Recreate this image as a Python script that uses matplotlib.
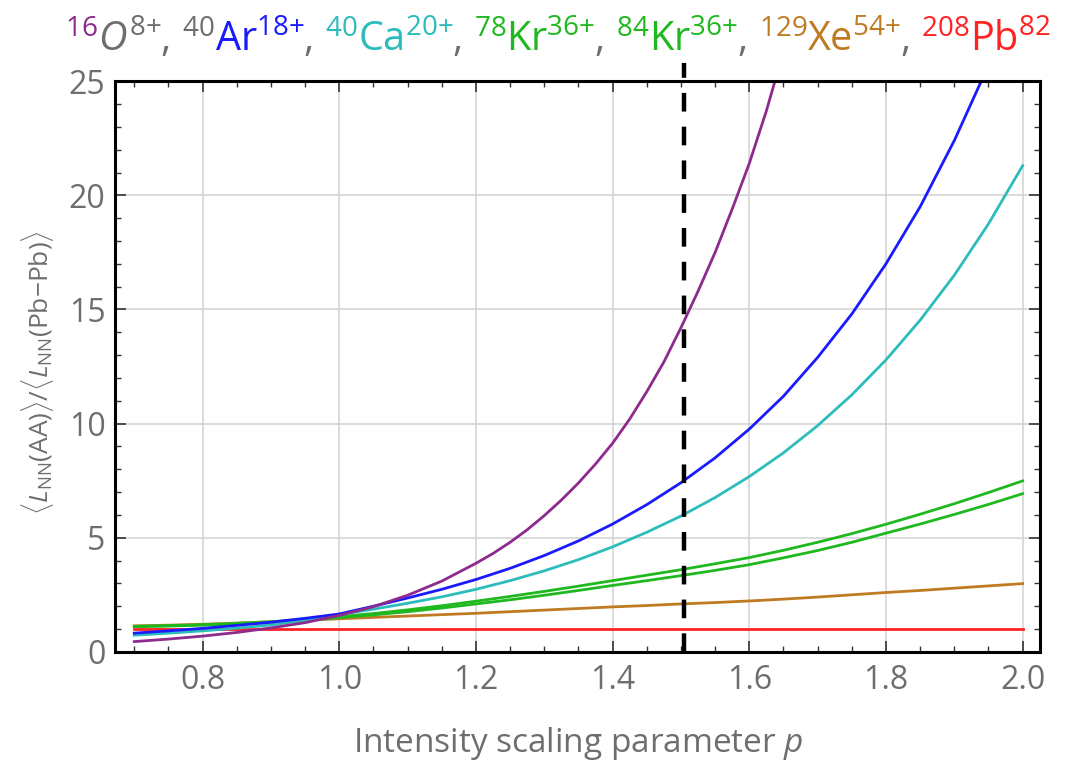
import numpy as np
import matplotlib
matplotlib.use("Agg")
import matplotlib.pyplot as plt
from matplotlib.offsetbox import TextArea, HPacker, AnnotationBbox
from matplotlib.ticker import MultipleLocator

plt.rcParams['font.family'] = ['Open Sans', 'DejaVu Sans']
plt.rcParams['mathtext.fontset'] = 'custom'
plt.rcParams['mathtext.rm'] = 'Open Sans'
plt.rcParams['mathtext.it'] = 'Open Sans:italic'
plt.rcParams['mathtext.bf'] = 'Open Sans:bold'

# values, ratio to Pb-Pb
p = [0.70, 0.75, 0.80, 0.85, 0.90, 0.95, 1.00, 1.05, 1.10, 1.15, 1.20, 1.25, 1.30, 1.35,
     1.40, 1.45, 1.50, 1.55, 1.60, 1.65, 1.70, 1.75, 1.80, 1.85, 1.90, 1.95, 2.00]

# O rises steeply, read it more finely
p_o = [0.70, 0.75, 0.80, 0.85, 0.90, 0.95, 1.00, 1.05, 1.10, 1.15, 1.20, 1.225, 1.25, 1.275,
       1.30, 1.325, 1.35, 1.375, 1.40, 1.425, 1.45, 1.475, 1.50, 1.525, 1.55, 1.575, 1.60,
       1.625, 1.65]
o16 = [0.45, 0.56, 0.69, 0.85, 1.05, 1.28, 1.60, 1.98, 2.48, 3.10, 3.88, 4.31, 4.80, 5.35,
       5.97, 6.65, 7.40, 8.23, 9.14, 10.2, 11.4, 12.7, 14.2, 15.8, 17.5, 19.4, 21.4,
       23.7, 26.3]

ar40 = [0.82, 0.92, 1.03, 1.16, 1.30, 1.47, 1.66, 2.00, 2.36, 2.74, 3.17, 3.66, 4.22, 4.86,
        5.60, 6.45, 7.41, 8.50, 9.76, 11.2, 12.9, 14.8, 17.0, 19.5, 22.4, 25.7, 29.5]
ca40 = [0.73, 0.82, 0.92, 1.04, 1.18, 1.38, 1.63, 1.87, 2.13, 2.41, 2.74, 3.12, 3.55, 4.04,
        4.60, 5.24, 5.95, 6.76, 7.68, 8.72, 9.91, 11.26, 12.79, 14.53, 16.5, 18.75, 21.3]
kr78 = [1.12, 1.15, 1.19, 1.25, 1.32, 1.42, 1.54, 1.68, 1.84, 2.02, 2.22, 2.43, 2.65, 2.88,
        3.12, 3.36, 3.60, 3.86, 4.13, 4.45, 4.80, 5.18, 5.59, 6.03, 6.49, 6.98, 7.49]
kr84 = [1.10, 1.13, 1.17, 1.22, 1.29, 1.38, 1.50, 1.62, 1.76, 1.92, 2.10, 2.28, 2.48, 2.69,
        2.91, 3.12, 3.34, 3.57, 3.82, 4.12, 4.44, 4.80, 5.20, 5.60, 6.02, 6.46, 6.93]
xe129 = [1.14, 1.17, 1.21, 1.26, 1.32, 1.38, 1.45, 1.51, 1.57, 1.63, 1.69, 1.76, 1.83, 1.90,
         1.97, 2.03, 2.10, 2.16, 2.23, 2.31, 2.40, 2.50, 2.60, 2.69, 2.79, 2.89, 2.99]
pb208 = [1.0, 1.0, 1.0, 1.0, 1.0, 1.0, 1.0, 1.0, 1.0, 1.0, 1.0, 1.0, 1.0, 1.0,
         1.0, 1.0, 1.0, 1.0, 1.0, 1.0, 1.0, 1.0, 1.0, 1.0, 1.0, 1.0, 1.0]

p_marker = 1.505

c_o = '#8e2a8e'
c_ar = '#1a1aff'
c_ca = '#2cbcbc'
c_kr = '#1fb81f'
c_xe = '#c07a22'
c_pb = '#ff2222'
gray = '#6e6e6e'

fig = plt.figure(figsize=(10.66, 7.66), dpi=100)
ax = fig.add_axes([0.108, 0.149, 0.868, 0.745])

ax.plot(p, pb208, color=c_pb, lw=2)
ax.plot(p, xe129, color=c_xe, lw=2)
ax.plot(p, kr84, color=c_kr, lw=2)
ax.plot(p, kr78, color=c_kr, lw=2)
ax.plot(p, ca40, color=c_ca, lw=2)
ax.plot(p, ar40, color=c_ar, lw=2)
ax.plot(p_o, o16, color=c_o, lw=2)

# dashed marker sticks out above the frame
ax.plot([p_marker, p_marker], [0, 25.8], color='black', lw=3.2, dashes=(4.2, 3.4),
        clip_on=False, zorder=5)

ax.set_xlim(0.672, 2.026)
ax.set_ylim(0, 25)
ax.xaxis.set_major_locator(MultipleLocator(0.2))
ax.xaxis.set_minor_locator(MultipleLocator(0.05))
ax.yaxis.set_major_locator(MultipleLocator(5))
ax.yaxis.set_minor_locator(MultipleLocator(1))
ax.grid(which='major', color='#d2d2d2', lw=1.1)
ax.set_axisbelow(True)

ax.tick_params(which='both', direction='in', top=True, right=True, color='#333333',
               labelcolor=gray, labelsize=23)
ax.tick_params(which='major', length=8, width=1.2)
ax.tick_params(which='minor', length=4, width=1.0)
ax.tick_params(axis='x', pad=9)
ax.tick_params(axis='y', pad=7)
for s in ax.spines.values():
    s.set_linewidth(2.2)
    s.set_color('black')

ax.set_xlabel('Intensity scaling parameter $p$', fontsize=24, color=gray)
ax.xaxis.set_label_coords(0.5, -0.128)
ax.set_ylabel(r'$\langle L_{\mathrm{NN}}(\mathrm{AA})\rangle / \langle L_{\mathrm{NN}}(\mathrm{Pb{-}Pb})\rangle$',
              fontsize=19, color=gray)
ax.yaxis.set_label_coords(-0.064, 0.489)

# coloured title made of pieces
pieces = [
    (r'$^{16}$', c_o), (r'$O^{8{+}}$', gray), (', ', gray),
    (r'$^{40}$', gray), (r'$\mathrm{Ar}^{18{+}}$', c_ar), (', ', gray),
    (r'$^{40}$', c_ca), (r'$\mathrm{Ca}^{20{+}}$', c_ca), (', ', gray),
    (r'$^{78}$', c_kr), (r'$\mathrm{Kr}^{36{+}}$', c_kr), (', ', gray),
    (r'$^{84}$', c_kr), (r'$\mathrm{Kr}^{36{+}}$', c_kr), (', ', gray),
    (r'$^{129}$', c_xe), (r'$\mathrm{Xe}^{54{+}}$', c_xe), (', ', gray),
    (r'$^{208}$', c_pb), (r'$\mathrm{Pb}^{82}$', c_pb),
]
areas = [TextArea(t, textprops=dict(color=c, fontsize=28.5)) for t, c in pieces]
box = HPacker(children=areas, align='baseline', pad=0, sep=0)
ab = AnnotationBbox(box, (0.061, 0.947), xycoords='figure fraction', frameon=False,
                    box_alignment=(0, 0.5), annotation_clip=False)
ax.add_artist(ab)

fig.savefig('out.png', dpi=100)
